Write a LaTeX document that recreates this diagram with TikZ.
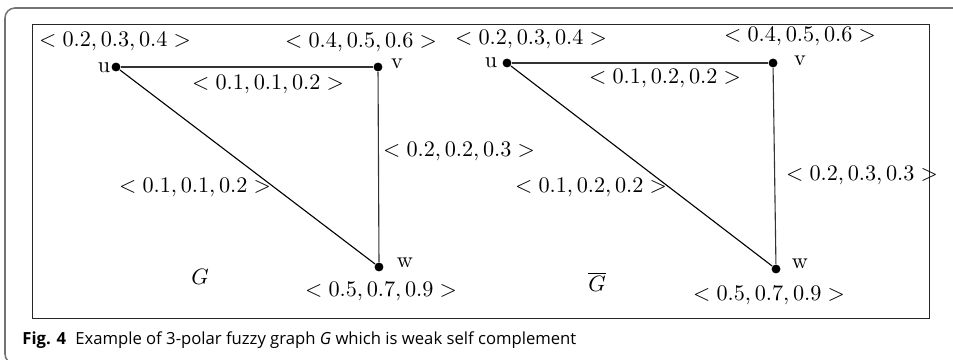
\documentclass[tikz,border=0pt]{standalone}
\usepackage{fontspec}
\newfontfamily\capfont{Open Sans}
\begin{document}
\begin{tikzpicture}[x=0.45pt,y=-0.45pt,
  vtx/.style={circle,fill=black,inner sep=0pt,minimum size=4pt},
  lbl/.style={inner sep=0pt,font=\fontsize{10}{12}\selectfont},
  edge/.style={line width=0.5pt},
  frame/.style={line width=0.45pt,draw=black!85}]
\useasboundingbox (0,0) rectangle (953,360);
\begin{scope}
\clip (0,0) rectangle (953,360);
\draw[line width=0.7pt,draw=black!55,rounded corners=4.5pt] (965,8) -- (5,8) -- (5,364) -- (965,364);
\end{scope}
\draw[frame] (32,25) rectangle (929,319);
% left graph
\node[vtx] (u1) at (116,67) {};
\node[vtx] (v1) at (378,67) {};
\node[vtx] (w1) at (379,267) {};
\draw[edge,draw=black!80] (u1) -- (v1);
\draw[edge,draw=black!80] (v1) -- (w1);
\draw[edge] (u1) -- (w1);
\node[lbl] (lu1) at (115,42) {$<0.2,0.3,0.4>$};
\node[lbl] (lv1) at (361,43) {$<0.4,0.5,0.6>$};
\node[lbl] (nu1) at (104,68) {u};
\node[lbl] (nv1) at (397,64) {v};
\node[lbl] (nw1) at (405,263) {w};
\node[lbl] (euv1) at (268,85) {$<0.1,0.1,0.2>$};
\node[lbl] (evw1) at (459,152) {$<0.2,0.2,0.3>$};
\node[lbl] (euw1) at (195,188) {$<0.1,0.1,0.2>$};
\node[lbl] (lw1) at (381,292) {$<0.5,0.7,0.9>$};
\node[lbl] (g1) at (200,277) {$G$};
% right graph
\node[vtx] (u2) at (507,63) {};
\node[vtx] (v2) at (773,63) {};
\node[vtx] (w2) at (776,269) {};
\draw[edge,draw=black!80] (u2) -- (v2);
\draw[edge,draw=black!80] (v2) -- (w2);
\draw[edge] (u2) -- (w2);
\node[lbl] (lu2) at (531,40) {$<0.2,0.3,0.4>$};
\node[lbl] (lv2) at (800,37) {$<0.4,0.5,0.6>$};
\node[lbl] (nu2) at (491,63) {u};
\node[lbl] (nv2) at (800,61) {v};
\node[lbl] (nw2) at (800,264) {w};
\node[lbl] (euv2) at (665,79) {$<0.1,0.2,0.2>$};
\node[lbl] (evw2) at (862,176) {$<0.2,0.3,0.3>$};
\node[lbl] (euw2) at (591,188) {$<0.1,0.2,0.2>$};
\node[lbl] (lw2) at (769,296) {$<0.5,0.7,0.9>$};
\node[lbl] (g2) at (597,282) {$\overline{G}$};
% caption
\node[inner sep=0pt,anchor=west,font=\capfont\fontsize{7.5}{9}\selectfont] (cap) at (22,340)
  {\textbf{Fig. 4}\hspace{0.55em}Example of 3-polar fuzzy graph \textit{G} which is weak self complement};
\end{tikzpicture}
\end{document}
